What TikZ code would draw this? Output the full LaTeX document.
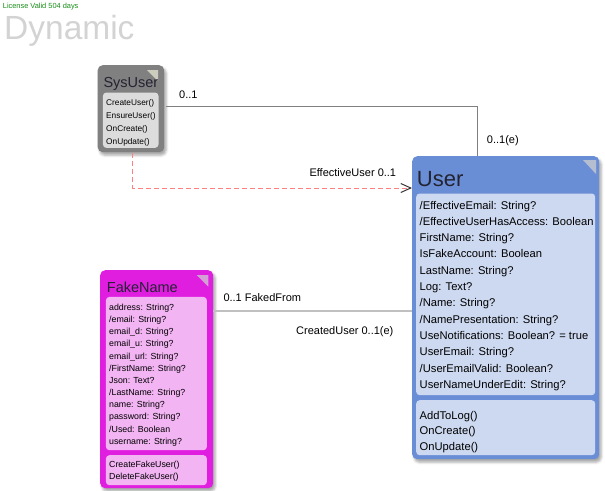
\documentclass[tikz,border=0pt]{standalone}
\usepackage{fontspec}
\setmainfont{Liberation Sans}
\usetikzlibrary{shadows.blur,calc,arrows.meta}
\definecolor{sysout}{RGB}{128,128,128}
\definecolor{sysin}{RGB}{220,220,220}
\definecolor{systri}{RGB}{205,205,190}
\definecolor{userout}{RGB}{106,142,214}
\definecolor{userin}{RGB}{205,217,240}
\definecolor{usertri}{RGB}{180,190,208}
\definecolor{fakeout}{RGB}{224,30,224}
\definecolor{fakein}{RGB}{242,180,242}
\definecolor{faketri}{RGB}{210,160,210}
\definecolor{titletxt}{RGB}{35,35,50}
\definecolor{lictxt}{RGB}{20,140,20}
\definecolor{dyntxt}{RGB}{211,211,211}
\definecolor{assoccol}{RGB}{128,128,128}
\definecolor{depcol}{RGB}{255,128,128}
\definecolor{fakedcol}{RGB}{192,192,192}
\begin{document}
\begin{tikzpicture}[x=1pt,y=-1pt,
  outbox/.style={anchor=north west, inner sep=0pt, rounded corners=5pt,
    blur shadow={shadow xshift=2pt, shadow yshift=-3pt, shadow blur radius=2.5pt, shadow opacity=35}},
  inbox/.style={anchor=north west, inner sep=0pt, rounded corners=3.5pt},
  ttl/.style={anchor=base west, inner sep=0pt, text=titletxt},
  mem/.style={anchor=base west, inner sep=0pt, text=black},
  lbl/.style={anchor=base west, inner sep=0pt, font=\fontsize{11}{13}\selectfont, text=black},
  assoc/.style={draw=assoccol, line width=1pt},
  dep/.style={draw=depcol, line width=1pt, dash pattern=on 5pt off 3pt,
    -{Straight Barb[length=10pt,width=9pt,color=black!80,line width=1pt]}},
  faked/.style={draw=fakedcol, line width=1.2pt}]
\useasboundingbox (0,0) rectangle (605,490);

% header
\node[anchor=base west, inner sep=0pt, text=lictxt, font=\fontsize{7.4}{9}\selectfont] (lic) at (2.7,8.7) {License Valid 504 days};
\node[anchor=base west, inner sep=0pt, text=dyntxt, font=\fontsize{33.5}{40}\selectfont] (dyn) at (4,39.5) {Dynamic};

% SysUser
\node[outbox, fill=sysout, minimum width=66.5pt, minimum height=87pt] (sys) at (97.5,65) {};
\fill[systri] (147,70) -- (158,70) -- (158,81) -- cycle;
\node[ttl, font=\fontsize{14.5}{17}\selectfont] (systitle) at (103.3,87.3) {SysUser};
\node[inbox, fill=sysin, minimum width=55.6pt, minimum height=55.4pt] (sysm) at (102.7,92.3) {};
\foreach \txt [count=\i] in {CreateUser(),EnsureUser(),OnCreate(),OnUpdate()}
  \node[mem, font=\fontsize{8.3}{10}\selectfont] (sm\i) at (106,{105.7+12.8*(\i-1)}) {\txt};

% User
\node[outbox, fill=userout, minimum width=187pt, minimum height=303pt] (user) at (412,156) {};
\fill[usertri] (583,160) -- (596,160) -- (596,174) -- cycle;
\node[ttl, font=\fontsize{22}{26}\selectfont] (usertitle) at (416.7,186) {User};
\node[inbox, fill=userin, minimum width=179pt, minimum height=201.7pt] (usera) at (416,193.3) {};
\node[inbox, fill=userin, minimum width=179pt, minimum height=55pt] (userm) at (416,400) {};
\foreach \txt [count=\i] in {/EffectiveEmail: String?,/EffectiveUserHasAccess: Boolean,FirstName: String?,IsFakeAccount: Boolean,LastName: String?,Log: Text?,/Name: String?,/NamePresentation: String?,UseNotifications: Boolean? = true,UserEmail: String?,/UserEmailValid: Boolean?,UserNameUnderEdit: String?}
  \node[mem, font=\fontsize{11.2}{13}\selectfont] (ua\i) at (419.5,{209+16.3*(\i-1)}) {\txt};
\foreach \txt [count=\i] in {AddToLog(),OnCreate(),OnUpdate()}
  \node[mem, font=\fontsize{11.2}{13}\selectfont] (um\i) at (419.5,{419+15.5*(\i-1)}) {\txt};

% FakeName
\node[outbox, fill=fakeout, minimum width=113pt, minimum height=218pt] (fake) at (100,270) {};
\fill[faketri] (196.7,275) -- (208.3,275) -- (208.3,286.7) -- cycle;
\node[ttl, font=\fontsize{14.5}{17}\selectfont] (faketitle) at (106.7,292.3) {FakeName};
\node[inbox, fill=fakein, minimum width=101pt, minimum height=153.3pt] (fakea) at (105.7,296.7) {};
\node[inbox, fill=fakein, minimum width=101pt, minimum height=30pt] (fakem) at (105.7,455) {};
\foreach \txt [count=\i] in {address: String?,/email: String?,email\_d: String?,email\_u: String?,email\_url: String?,/FirstName: String?,Json: Text?,/LastName: String?,name: String?,password: String?,/Used: Boolean,username: String?}
  \node[mem, font=\fontsize{8.8}{10}\selectfont] (fa\i) at (109,{310.5+12.15*(\i-1)}) {\txt};
\foreach \txt [count=\i] in {CreateFakeUser(),DeleteFakeUser()}
  \node[mem, font=\fontsize{8.8}{10}\selectfont] (fm\i) at (109,{467.2+12*(\i-1)}) {\txt};

% connectors
\draw[assoc] ([yshift=2.5pt,xshift=2pt]sys.east) -| ($(user.north west)+(65,0)$);
\draw[dep] ($(sys.south west)+(35.2,1)$) |- ($(user.north west)+(0,32)$);
\draw[faked] ($(fake.north east)+(0,41)$) -- ($(user.north west)+(0,155)$);

% labels
\node[lbl] (l1) at (179,98.9) {0..1};
\node[lbl] (l2) at (486.7,143.9) {0..1(e)};
\node[lbl] (l3) at (309.3,176.6) {EffectiveUser 0..1};
\node[lbl] (l4) at (223.3,301.2) {0..1 FakedFrom};
\node[lbl] (l5) at (296,334.9) {CreatedUser 0..1(e)};
\end{tikzpicture}
\end{document}
